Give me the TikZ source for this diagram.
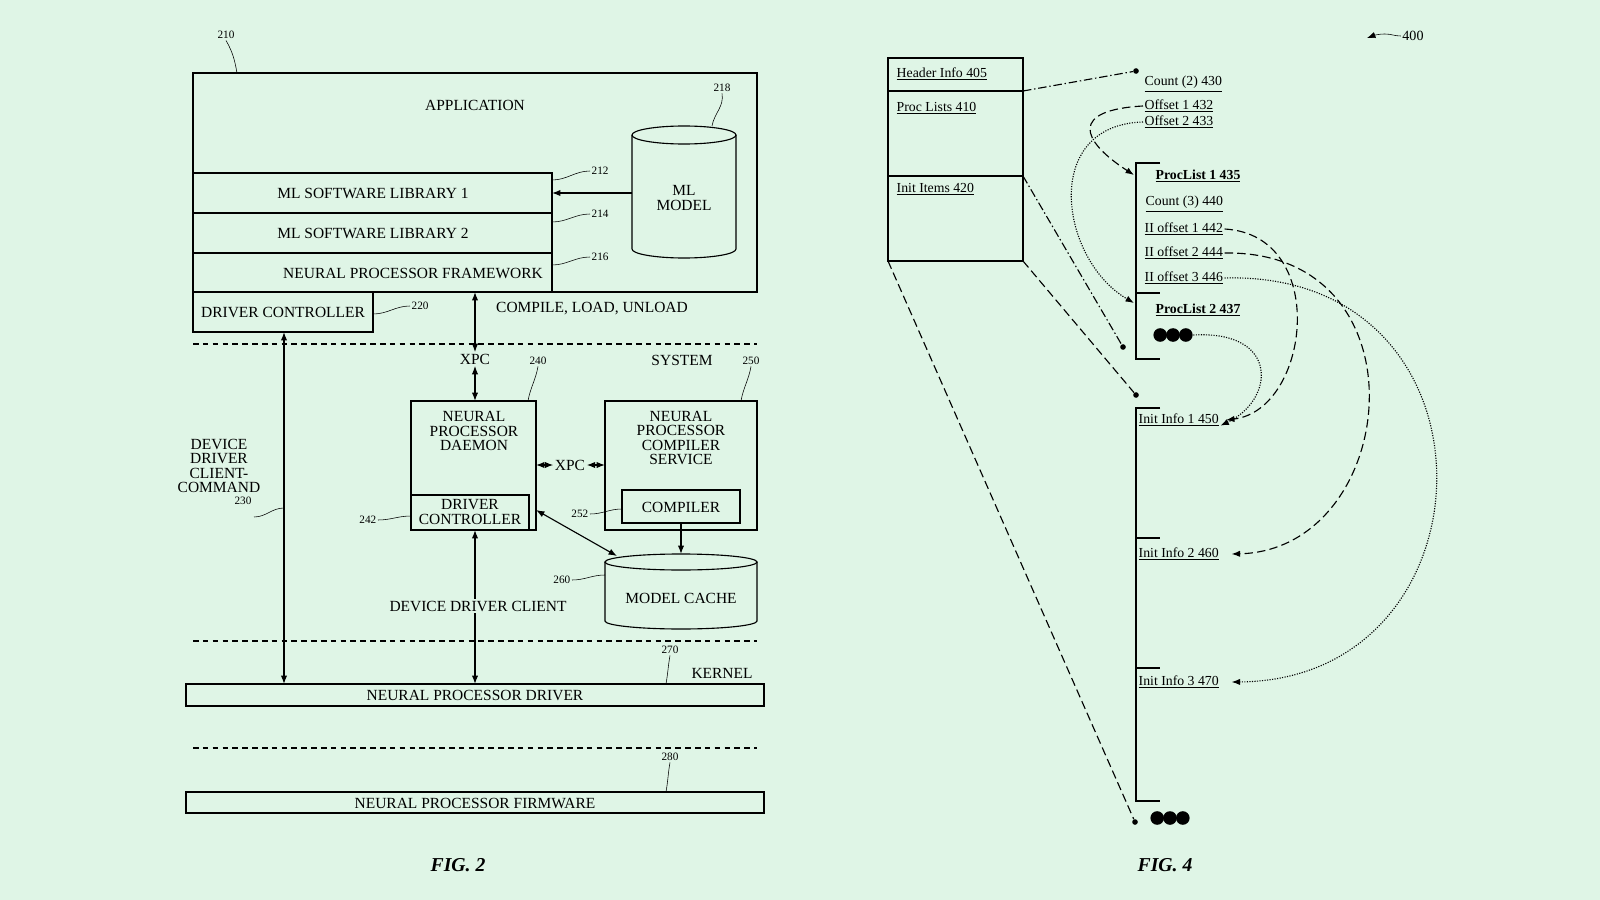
\documentclass[tikz,border=0pt]{standalone}
\usepackage{fontspec}
\setmainfont{Liberation Serif}
\usetikzlibrary{positioning,shapes.geometric,arrows.meta}
\definecolor{bgmint}{HTML}{DFF5E6}
\tikzset{
  box/.style={draw,thick,inner sep=0pt},
  lbl/.style={font=\fontsize{11}{10.4}\selectfont,align=center,inner sep=0pt},
  num/.style={font=\fontsize{8}{8}\selectfont,inner sep=1pt},
  itm/.style={font=\fontsize{9.8}{10}\selectfont,inner sep=1pt,anchor=west},
  sep/.style={thick,dash pattern=on 4pt off 3pt},
  dbl/.style={thick,{Latex[length=6pt]}-{Latex[length=6pt]}},
  one/.style={thick,-{Latex[length=6pt]}},
  lead/.style={thin},
  dot/.style={circle,fill,inner sep=0pt,minimum size=4pt},
  bigdots/.style={inner sep=0pt,minimum width=1cm,minimum height=0.35cm},
}
\newcommand{\ul}[1]{\underline{#1}}
\newcommand{\threedots}[1]{\foreach \dx in {-0.32,0,0.32} \fill ([xshift=\dx cm]#1.center) circle[radius=0.17cm];}
\begin{document}
\begin{tikzpicture}[x=0.025cm,y=-0.025cm]
\fill[bgmint] (0,0) rectangle (1600,900);
\useasboundingbox (0,0) rectangle (1600,900);
%% FIG. 2
\draw[box] (193,73) rectangle (757,292);
\node[lbl] (app) at (475,105) {APPLICATION};
\draw[box] (193,173) rectangle (552,213);
\draw[box] (193,213) rectangle (552,253);
\draw[box] (193,253) rectangle (552,292);
\node[lbl] (lib1) at (373,193) {ML SOFTWARE LIBRARY 1};
\node[lbl] (lib2) at (373,233) {ML SOFTWARE LIBRARY 2};
\node[lbl] (npf) at (413,273) {NEURAL PROCESSOR FRAMEWORK};
\coordinate (lib1e) at (552,193);
% ML model cylinder
\draw[thick] (632,135) -- (632,249) arc[start angle=180,end angle=360,x radius=52,y radius=-9] -- (736,135);
\draw[thick] (684,135) ellipse[x radius=52,y radius=9];
\node[lbl] (mlm) at (684,198) {ML\\MODEL};
\coordinate (mlw) at (632,193);
\draw[one] (mlw) -- (lib1e);
\draw[box] (193,292) rectangle (373,332);
\node[lbl] (drvc) at (283,312) {DRIVER CONTROLLER};
\draw[sep] (193,344) -- (757,344);
\node[lbl,fill=bgmint,inner sep=1pt] (xpc1) at (475,359) {XPC};
\coordinate (fwb) at (475,292);
\node[lbl] (cload) at (592,309) {COMPILE, LOAD, UNLOAD};
\node[lbl] (sys) at (682,360) {SYSTEM};
\draw[box] (411,401) rectangle (536,530);
\node[lbl] (dmn) at (474,431) {NEURAL\\PROCESSOR\\DAEMON};
\draw[box] (411,495) rectangle (529,530);
\node[lbl] (dc2) at (470,512) {DRIVER\\CONTROLLER};
\draw[box] (605,401) rectangle (757,530);
\node[lbl] (ncs) at (681,438) {NEURAL\\PROCESSOR\\COMPILER\\SERVICE};
\draw[box] (622,490) rectangle (740,523);
\node[lbl] (cmp) at (681,507) {COMPILER};
\coordinate (dmtop) at (475,401);
\draw[dbl] (fwb) -- (xpc1.north);
\draw[dbl] (xpc1.south) -- (dmtop);
\coordinate (dmr) at (536,465);
\coordinate (csl) at (605,465);
\node[lbl,fill=bgmint,inner sep=1pt] (xpc2) at (570,465) {XPC};
\draw[dbl] (dmr) -- (xpc2.west);
\draw[dbl] (xpc2.east) -- (csl);
% model cache cylinder
\draw[thick] (605,562) -- (605,621) arc[start angle=180,end angle=360,x radius=76,y radius=-8] -- (757,562);
\draw[thick] (681,562) ellipse[x radius=76,y radius=8];
\node[lbl] (mc) at (681,598) {MODEL CACHE};
\coordinate (mctop) at (681,554);
\coordinate (cmpb) at (681,523);
\draw[one] (cmpb) -- (mctop);
\coordinate (dcc) at (536,510);
\coordinate (mcc) at (617,556);
\draw[dbl] (dcc) -- (mcc);
\coordinate (dcb) at (475,530);
\coordinate (npdt) at (475,684);
\draw[dbl] (dcb) -- (npdt);
\node[lbl,fill=bgmint,inner sep=1pt] (ddc) at (478,606) {DEVICE DRIVER CLIENT};
\node[lbl] (ddcc) at (219,466) {DEVICE\\DRIVER\\CLIENT-\\COMMAND};
\draw[sep] (193,641) -- (757,641);
\node[lbl] (krn) at (722,673) {KERNEL};
\draw[box] (186,684) rectangle (764,706);
\node[lbl] (npd) at (475,695) {NEURAL PROCESSOR DRIVER};
\coordinate (drvb) at (284,332);
\coordinate (npdl) at (284,684);
\draw[dbl] (drvb) -- (npdl);
\draw[sep] (193,748) -- (757,748);
\draw[box] (186,792) rectangle (764,813);
\node[lbl] (npfw) at (475,803) {NEURAL PROCESSOR FIRMWARE};
\node[font=\bfseries\itshape\fontsize{14}{14}\selectfont] (fig2) at (458,865) {FIG. 2};
% reference numbers
\node[num] (n210) at (226,35) {210};
\draw[lead] (n210.south) to[out=-60,in=100] (237,73);
\node[num] (n218) at (722,88) {218};
\draw[lead] (n218.south) to[out=-80,in=80] (712,126);
\node[num,anchor=west] (n212) at (590,171) {212};
\draw[lead] (n212.west) to[out=180,in=0] (552,180);
\node[num,anchor=west] (n214) at (590,214) {214};
\draw[lead] (n214.west) to[out=180,in=0] (552,222);
\node[num,anchor=west] (n216) at (590,257) {216};
\draw[lead] (n216.west) to[out=180,in=0] (552,265);
\node[num,anchor=west] (n220) at (410,306) {220};
\draw[lead] (n220.west) to[out=180,in=0] (373,314);
\node[num] (n240) at (538,361) {240};
\draw[lead] (n240.south) to[out=-100,in=80] (528,401);
\node[num] (n250) at (751,361) {250};
\draw[lead] (n250.south) to[out=-100,in=80] (741,401);
\node[num,anchor=east] (n242) at (378,520) {242};
\draw[lead] (n242.east) to[out=0,in=180] (411,516);
\node[num,anchor=east] (n252) at (590,514) {252};
\draw[lead] (n252.east) to[out=0,in=180] (622,509);
\node[num,anchor=east] (n260) at (572,580) {260};
\draw[lead] (n260.east) to[out=0,in=180] (605,575);
\node[num] (n230) at (243,501) {230};
\draw[lead] (254,517) to[out=0,in=180] (284,508);
\node[num] (n270) at (670,650) {270};
\draw[lead] (n270.south) to[out=-100,in=80] (666,684);
\node[num] (n280) at (670,757) {280};
\draw[lead] (n280.south) to[out=-100,in=80] (666,792);
%% FIG. 4
\draw[box] (888,58) rectangle (1023,261);
\draw[thick] (888,91) -- (1023,91);
\draw[thick] (888,176) -- (1023,176);
\node[itm] (hdr) at (895,74) {\ul{Header Info 405}};
\node[itm] (pl) at (895,108) {\ul{Proc Lists 410}};
\node[itm] (ii) at (895,189) {\ul{Init Items 420}};
\coordinate (plne) at (1023,91);
\coordinate (iine) at (1023,176);
\coordinate (tse) at (1023,261);
\coordinate (tsw) at (888,261);
\node[dot] (d1) at (1136,71) {};
\node[dot] (d2) at (1123,347) {};
\node[dot] (d3) at (1136,395) {};
\node[dot] (d4) at (1135,822) {};
\draw[thick,dash pattern=on 6pt off 2pt on 1pt off 2pt] (plne) -- (d1);
\draw[thick,dash pattern=on 6pt off 2pt on 1pt off 2pt] (iine) -- (d2);
\draw[thick,dash pattern=on 6pt off 3pt] (tse) -- (d3);
\draw[thick,dash pattern=on 6pt off 3pt] (tsw) -- (d4);
\node[itm] (c430) at (1143,84) {\ul{Count (2) 430}};
\node[itm] (o432) at (1143,106) {\ul{Offset 1 432}};
\node[itm] (o433) at (1143,122) {\ul{Offset 2 433}};
% proc list bracket
\draw[thick] (1160,163) -- (1136,163) -- (1136,359) -- (1160,359);
\draw[thick] (1136,293) -- (1160,293);
\node[itm,font=\bfseries\fontsize{9.8}{10}\selectfont] (p435) at (1154,176) {\ul{ProcList 1 435}};
\node[itm] (c440) at (1144,204) {\ul{Count (3) 440}};
\node[itm] (o442) at (1143,229) {\ul{II offset 1 442}};
\node[itm] (o444) at (1143,253) {\ul{II offset 2 444}};
\node[itm] (o446) at (1143,278) {\ul{II offset 3 446}};
\node[itm,font=\bfseries\fontsize{9.8}{10}\selectfont] (p437) at (1154,310) {\ul{ProcList 2 437}};
\node[bigdots] (dots1) at (1173,335) {};
\threedots{dots1}
% init info bracket
\draw[thick] (1160,408) -- (1136,408) -- (1136,801) -- (1160,801);
\draw[thick] (1136,538) -- (1160,538);
\draw[thick] (1136,668) -- (1160,668);
\node[itm] (i450) at (1137,420) {\ul{Init Info 1 450}};
\node[itm] (i460) at (1137,554) {\ul{Init Info 2 460}};
\node[itm] (i470) at (1137,682) {\ul{Init Info 3 470}};
\node[bigdots] (dots2) at (1170,818) {};
\threedots{dots2}
\coordinate (pl1a) at (1134,175);
\coordinate (pl2a) at (1134,303);
% connectors
\draw[one,dash pattern=on 6pt off 3pt] (o432.west) .. controls (1070,110) and (1080,140) .. (pl1a);
\draw[one,densely dotted] (o433.west) .. controls (1040,125) and (1060,260) .. (pl2a);
\draw[one,dash pattern=on 6pt off 3pt] (o442.east) .. controls (1330,235) and (1310,410) .. ([xshift=4pt]i450.east);
\draw[one,densely dotted] (dots1.east) .. controls (1280,330) and (1275,400) .. ([yshift=-4pt]i450.east);
\draw[one,dash pattern=on 6pt off 3pt] (o444.east) .. controls (1430,250) and (1400,550) .. ([xshift=8pt]i460.east);
\draw[one,densely dotted] (o446.east) .. controls (1510,270) and (1500,680) .. ([xshift=8pt]i470.east);
\node[num,font=\fontsize{10}{10}\selectfont] (n400) at (1413,36) {400};
\coordinate (a400) at (1367,38);
\draw[one,thin] (n400.west) to[out=180,in=0] (1385,34) to[out=180,in=20] (a400);
\node[font=\bfseries\itshape\fontsize{14}{14}\selectfont] (fig4) at (1165,865) {FIG. 4};
\end{tikzpicture}
\end{document}
